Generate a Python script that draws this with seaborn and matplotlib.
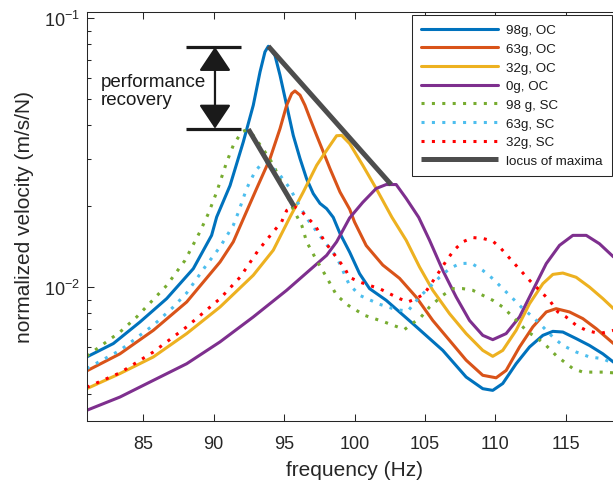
import numpy as np
import pandas as pd
import matplotlib
matplotlib.use("Agg")
import matplotlib.pyplot as plt
import seaborn as sns
from matplotlib.ticker import LogLocator, NullFormatter

# ---------------- data ----------------
f_98oc = [80.98, 82.87, 84.76, 86.66, 88.55, 89.85, 90.21, 91.16, 92.10, 92.81, 93.29, 93.64, 93.88,
          94.35, 94.71, 95.18, 95.65, 96.13, 96.60, 97.07, 97.55, 98.02, 98.49, 98.97, 99.66, 100.36,
          101.07, 102.25, 104.14, 106.27, 107.93, 109.11, 109.82, 110.53, 111.48, 112.43, 113.38,
          114.09, 114.80, 115.74, 116.69, 117.64, 118.40]
v_98oc = [0.00551, 0.00618, 0.00743, 0.00908, 0.01173, 0.0156, 0.01825, 0.0239, 0.0347, 0.0475, 0.0632,
          0.0750, 0.0787, 0.0728, 0.0614, 0.0475, 0.0367, 0.0301, 0.0253, 0.0223, 0.0205, 0.0196, 0.0182,
          0.01585, 0.0135, 0.01124, 0.00989, 0.00895, 0.00733, 0.00583, 0.00464, 0.00420, 0.00414,
          0.00439, 0.00520, 0.00600, 0.00663, 0.00686, 0.00682, 0.00645, 0.00608, 0.00566, 0.00527]

f_63oc = [80.98, 83.34, 85.71, 88.08, 90.45, 91.39, 92.16, 93.05, 94.00, 94.71, 95.18, 95.54, 95.77,
          96.13, 96.48, 96.84, 97.31, 97.79, 98.26, 98.97, 99.66, 100.0, 100.83, 102.01, 103.2, 104.38,
          105.56, 106.75, 107.93, 109.11, 110.06, 110.77, 111.72, 112.67, 113.62, 114.32, 115.27,
          116.22, 117.17, 118.40]
v_63oc = [0.00489, 0.00566, 0.00692, 0.00882, 0.01242, 0.01476, 0.01825, 0.0233, 0.0301, 0.0389, 0.0475,
          0.0525, 0.0537, 0.0518, 0.0475, 0.0424, 0.0367, 0.0318, 0.0276, 0.0226, 0.0195, 0.0175,
          0.0143, 0.0121, 0.0108, 0.0092, 0.00753, 0.00635, 0.00536, 0.00471, 0.00461, 0.00491,
          0.00600, 0.00713, 0.00810, 0.00833, 0.00810, 0.00765, 0.00702, 0.00618]

f_32oc = [80.98, 83.34, 85.71, 88.08, 90.45, 92.81, 94.23, 95.42, 96.36, 97.31, 97.79, 98.26, 98.73,
          99.09, 99.66, 100.59, 101.54, 102.66, 103.67, 104.62, 105.56, 106.75, 107.93, 109.11, 109.82,
          110.53, 111.48, 112.43, 113.38, 114.09, 114.80, 115.74, 116.69, 117.64, 118.40]
v_32oc = [0.00420, 0.00478, 0.00551, 0.00673, 0.00845, 0.01109, 0.01374, 0.01825, 0.0226, 0.0284, 0.0310,
          0.0337, 0.0366, 0.0367, 0.0342, 0.0284, 0.0233, 0.0182, 0.01496, 0.0119, 0.00975, 0.00798,
          0.00673, 0.00583, 0.00554, 0.00583, 0.00692, 0.00869, 0.01032, 0.01117, 0.0113, 0.0109,
          0.01002, 0.00908, 0.00833]

f_0oc = [80.98, 83.34, 85.71, 88.08, 90.45, 92.81, 95.18, 97.07, 98.02, 98.73, 99.65, 100.59, 101.54,
         102.25, 102.96, 103.67, 104.56, 105.33, 106.27, 107.22, 108.17, 109.11, 109.82, 110.77, 111.72,
         112.67, 113.62, 114.56, 115.51, 116.46, 117.40, 118.40]
v_0oc = [0.00349, 0.00391, 0.00451, 0.00520, 0.00627, 0.00776, 0.00975, 0.0119, 0.01315, 0.01476, 0.0181,
         0.0207, 0.0233, 0.0241, 0.0241, 0.0214, 0.0182, 0.01496, 0.01156, 0.00921, 0.00753, 0.00663,
         0.00639, 0.00673, 0.00776, 0.00975, 0.01225, 0.01432, 0.0156, 0.0156, 0.01452, 0.01297]

f_98sc = [80.98, 83.34, 84.53, 86.66, 87.96, 89.02, 89.62, 90.21, 90.92, 91.39, 91.98, 92.29, 92.81,
          93.50, 94.21, 94.92, 95.63, 96.27, 96.60, 97.31, 98.02, 98.73, 99.56, 100.71, 102.13, 103.55,
          104.73, 105.33, 106.27, 106.98, 107.69, 108.40, 109.11, 109.82, 110.53, 111.25, 111.84,
          112.31, 112.90, 113.61, 114.32, 114.92, 115.51, 116.22, 117.64, 118.40]
v_98sc = [0.00555, 0.00682, 0.00776, 0.01016, 0.01259, 0.01608, 0.0188, 0.0226, 0.0292, 0.0337, 0.0378,
          0.0384, 0.0367, 0.0327, 0.0287, 0.0238, 0.0196, 0.0169, 0.01476, 0.0126, 0.0109, 0.00934,
          0.00857, 0.00787, 0.00743, 0.00697, 0.00776, 0.00845, 0.00934, 0.00989, 0.00989, 0.00975,
          0.00934, 0.00895, 0.00845, 0.00776, 0.00723, 0.00682, 0.00653, 0.00608, 0.00558, 0.00527,
          0.00499, 0.00484, 0.00484, 0.00481]

f_63sc = [80.98, 83.34, 85.71, 87.13, 88.08, 89.38, 90.45, 91.39, 91.75, 92.34, 92.93, 93.40, 93.76,
          94.71, 95.42, 96.13, 96.72, 97.78, 98.73, 99.60, 100.36, 101.78, 102.96, 103.79, 104.62,
          105.33, 106.04, 106.75, 107.46, 108.29, 109.11, 109.82, 110.53, 111.25, 111.96, 112.67,
          113.38, 114.09, 114.80, 115.74, 116.69, 117.64, 118.40]
v_63sc = [0.00499, 0.00583, 0.00723, 0.00845, 0.00953, 0.0119, 0.01413, 0.0170, 0.0190, 0.0233, 0.0269,
          0.0288, 0.0292, 0.0261, 0.0233, 0.0199, 0.01774, 0.01496, 0.01297, 0.0103, 0.00934, 0.00865,
          0.00826, 0.00816, 0.00921, 0.01002, 0.0109, 0.01173, 0.01225, 0.0123, 0.01156, 0.01077,
          0.00989, 0.00908, 0.00833, 0.00776, 0.00713, 0.00653, 0.00608, 0.00575, 0.00551, 0.00543,
          0.00520]

f_32sc = [80.98, 83.34, 85.71, 88.08, 90.45, 91.87, 93.17, 94.23, 94.82, 95.18, 95.72, 96.30, 97.19,
          97.90, 98.61, 99.32, 99.64, 100.36, 101.07, 101.78, 102.49, 103.20, 103.79, 104.38, 104.97,
          105.80, 106.63, 107.10, 107.69, 108.40, 109.11, 109.82, 110.41, 111.36, 112.43, 113.02,
          113.85, 114.44, 115.03, 115.74, 116.46, 117.40, 118.40]
v_32sc = [0.00425, 0.00481, 0.00575, 0.00713, 0.00908, 0.0109, 0.01374, 0.01608, 0.0175, 0.0193, 0.0200,
          0.0190, 0.0170, 0.01476, 0.01315, 0.01173, 0.0109, 0.01047, 0.01016, 0.00989, 0.00947,
          0.00908, 0.00882, 0.00908, 0.00947, 0.01099, 0.0128, 0.0138, 0.01476, 0.01531, 0.0152,
          0.01486, 0.01393, 0.01225, 0.01062, 0.00989, 0.00895, 0.0081, 0.00776, 0.00723, 0.00692,
          0.00673, 0.00692]

locus_oc_f = [93.88, 102.60]
locus_oc_v = [0.0787, 0.0241]
locus_sc_f = [92.46, 95.70]
locus_sc_v = [0.0387, 0.0200]

recovery_bar_f = [88.0, 91.94]
recovery_top_v = 0.0782
recovery_bottom_v = 0.0389
recovery_arrow_f = 90.09
recovery_text = "performance\nrecovery"

x_ticks = [85, 90, 95, 100, 105, 110, 115]

# ---------------- style ----------------
sns.set_theme(style="white")
plt.rcParams['font.family'] = ['Liberation Sans', 'DejaVu Sans']
plt.rcParams['mathtext.default'] = 'regular'
AX_COL = '#262626'

fig = plt.figure(figsize=(6.13, 4.81), dpi=100)
W, H = 613, 481
ax = fig.add_axes([87 / W, (H - 422.3) / H, (622 - 87) / W, (422.3 - 12.7) / H])

dot = (0, (1, 2.4))
series = [
    ("98g, OC", f_98oc, v_98oc, "#0072BD", "-"),
    ("63g, OC", f_63oc, v_63oc, "#D95319", "-"),
    ("32g, OC", f_32oc, v_32oc, "#EDB120", "-"),
    ("0g, OC", f_0oc, v_0oc, "#7E2F8E", "-"),
    ("98 g, SC", f_98sc, v_98sc, "#77AC30", dot),
    ("63g, SC", f_63sc, v_63sc, "#4DBEEE", dot),
    ("32g, SC", f_32sc, v_32sc, "#FF0000", dot),
]

for label, f, v, c, ls in series:
    df = pd.DataFrame({"frequency": f, "velocity": v})
    sns.lineplot(data=df, x="frequency", y="velocity", ax=ax, color=c, lw=2.2,
                 linestyle=ls, label=label, estimator=None, sort=False)

LOC_COL = '#4D4D4D'
sns.lineplot(x=locus_oc_f, y=locus_oc_v, ax=ax, color=LOC_COL, lw=3.6,
             label="locus of maxima", estimator=None, sort=False, solid_capstyle='butt')
sns.lineplot(x=locus_sc_f, y=locus_sc_v, ax=ax, color=LOC_COL, lw=3.6,
             label="_nolegend_", estimator=None, sort=False, solid_capstyle='butt')

ax.set_yscale('log')
ax.set_xlim(81, 119)
ax.set_ylim(0.003177, 0.1058)

# performance recovery annotation
ax.plot(recovery_bar_f, [recovery_top_v] * 2, color='k', lw=2.3, solid_capstyle='butt')
ax.plot(recovery_bar_f, [recovery_bottom_v] * 2, color='k', lw=2.3, solid_capstyle='butt')
ax.annotate('', xy=(recovery_arrow_f, recovery_top_v), xytext=(recovery_arrow_f, recovery_bottom_v),
            arrowprops=dict(arrowstyle='<|-|>,head_length=0.75,head_width=0.5', mutation_scale=20,
                            color='k', lw=1.6, shrinkA=0, shrinkB=0))
ax.text(82.0, 0.054, recovery_text, fontsize=13.5, ha='left', va='center', color='k', linespacing=1.1)

# axes styling
ax.set_xticks(x_ticks)
ax.yaxis.set_major_locator(LogLocator(base=10))
ax.yaxis.set_minor_locator(LogLocator(base=10, subs=np.arange(2, 10)))
ax.yaxis.set_minor_formatter(NullFormatter())
ax.tick_params(axis='both', which='major', direction='in', length=4.8, width=0.75,
               color=AX_COL, labelcolor=AX_COL, labelsize=13, top=True, right=False,
               bottom=True, left=True)
ax.tick_params(axis='y', which='minor', direction='in', length=2.6, width=0.75, color=AX_COL,
               left=True, right=False)
ax.tick_params(axis='x', which='major', pad=10)
ax.tick_params(axis='y', which='major', pad=5)
for s in ['top', 'bottom', 'left']:
    ax.spines[s].set_color(AX_COL)
    ax.spines[s].set_linewidth(0.75)
ax.spines['right'].set_visible(False)

ax.set_xlabel("frequency (Hz)", fontsize=15, color=AX_COL)
ax.set_ylabel("normalized velocity (m/s/N)", fontsize=15, color=AX_COL)
ax.xaxis.set_label_coords(0.5, -0.095)
ax.yaxis.set_label_coords(-0.099, 0.5)

handles, labels = ax.get_legend_handles_labels()
keep = [(h, l) for h, l in zip(handles, labels) if not l.startswith('_')]
leg = ax.legend([h for h, _ in keep], [l for _, l in keep], loc='upper right',
                bbox_to_anchor=(612 / W, (H - 15.7) / H), bbox_transform=fig.transFigure,
                fontsize=9.6, frameon=True, fancybox=False, edgecolor=AX_COL, framealpha=1,
                borderaxespad=0, handlelength=5.8, handletextpad=0.6, labelspacing=0.475,
                borderpad=0.7)
leg.get_frame().set_linewidth(0.75)
for t in leg.get_texts():
    t.set_color('#1a1a1a')

fig.savefig('out.png', dpi=100)
